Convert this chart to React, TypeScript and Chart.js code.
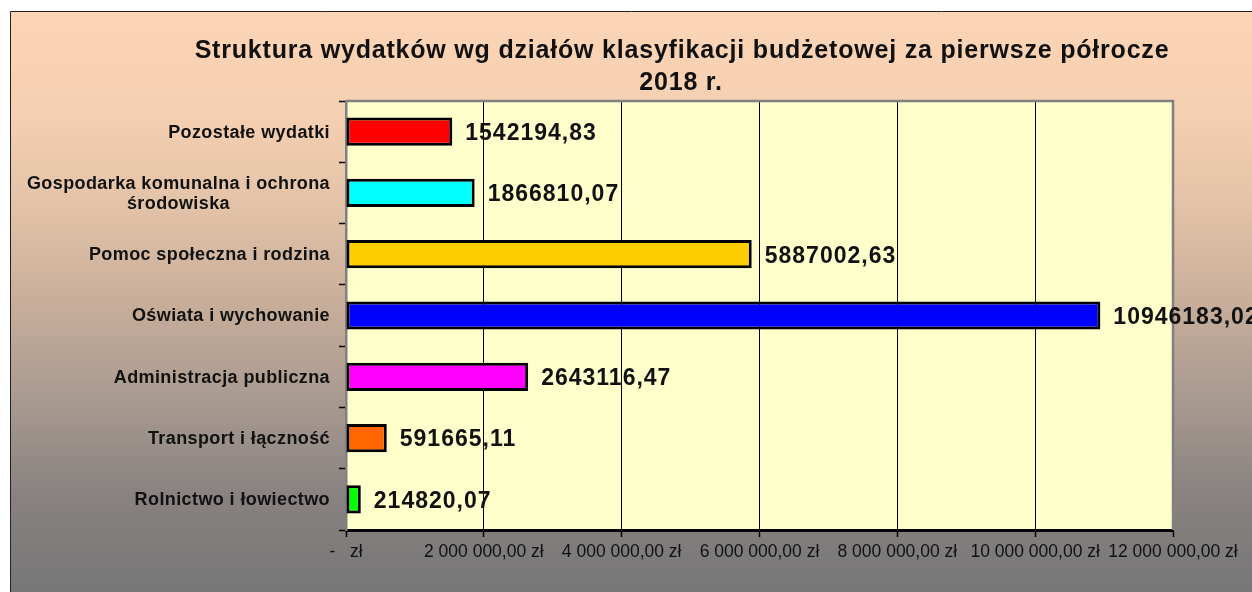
import React, { useEffect, useRef } from "react";
import { Chart, registerables } from "chart.js";

Chart.register(...registerables);

const TITLE_LINES = [
  "Struktura wydatków wg działów klasyfikacji budżetowej za pierwsze półrocze",
  "2018 r.",
];

const CATEGORIES: string[][] = [
  ["Pozostałe wydatki"],
  ["Gospodarka komunalna i ochrona", "środowiska"],
  ["Pomoc społeczna i rodzina"],
  ["Oświata i wychowanie"],
  ["Administracja publiczna"],
  ["Transport i łączność"],
  ["Rolnictwo i łowiectwo"],
];

const VALUES = [
  1542194.83, 1866810.07, 5887002.63, 10946183.02, 2643116.47, 591665.11, 214820.07,
];

const BAR_COLORS = [
  "#FF0000",
  "#00FFFF",
  "#FFCC00",
  "#0000FF",
  "#FF00FF",
  "#FF6600",
  "#00FF00",
];

const X_MIN = 0;
const X_MAX = 12000000;
const X_STEP = 2000000;

const FONT = "'Liberation Sans', Arial, sans-serif";

function formatTick(v: number): string {
  if (v === 0) return "-   zł";
  const s = Math.round(v).toString().replace(/\B(?=(\d{3})+(?!\d))/g, " ");
  return s + ",00 zł";
}

function formatValue(v: number): string {
  return v.toFixed(2).replace(".", ",");
}

const backgroundPlugin = {
  id: "bgPlugin",
  beforeDraw(chart: any) {
    const { ctx, width, height, chartArea } = chart;
    ctx.save();
    ctx.fillStyle = "#ffffff";
    ctx.fillRect(0, 0, width, height);
    const g = ctx.createLinearGradient(0, 11, 0, height);
    g.addColorStop(0, "#FBD5B5");
    g.addColorStop(0.18, "#F5CFB1");
    g.addColorStop(0.33, "#E3C3A8");
    g.addColorStop(0.5, "#C8AE9A");
    g.addColorStop(0.67, "#A89A90");
    g.addColorStop(0.84, "#878180");
    g.addColorStop(1, "#777777");
    ctx.fillStyle = g;
    ctx.fillRect(10, 11, width - 10, height - 11);
    ctx.strokeStyle = "#222222";
    ctx.lineWidth = 1;
    ctx.beginPath();
    ctx.moveTo(10.5, height);
    ctx.lineTo(10.5, 11.5);
    ctx.lineTo(width, 11.5);
    ctx.stroke();
    ctx.fillStyle = "#FFFFCC";
    ctx.fillRect(chartArea.left, chartArea.top, chartArea.right - chartArea.left, chartArea.bottom - chartArea.top);
    ctx.restore();
  },
  beforeDatasetsDraw(chart: any) {
    const { ctx, chartArea } = chart;
    ctx.save();
    ctx.strokeStyle = "#808080";
    ctx.lineWidth = 2.5;
    ctx.beginPath();
    ctx.moveTo(chartArea.left, chartArea.top);
    ctx.lineTo(chartArea.right, chartArea.top);
    ctx.lineTo(chartArea.right, chartArea.bottom);
    ctx.stroke();
    ctx.restore();
  },
  afterDraw(chart: any) {
    const { ctx } = chart;
    ctx.save();
    ctx.fillStyle = "#111111";
    ctx.font = `bold 25px ${FONT}`;
    (ctx as any).letterSpacing = "0.8px";
    ctx.textAlign = "center";
    ctx.textBaseline = "alphabetic";
    ctx.fillText(TITLE_LINES[0], 682, 58);
    ctx.fillText(TITLE_LINES[1], 681, 90);
    ctx.restore();

    // category labels: lines centred on each other, block right-aligned to the axis
    const yScale = chart.scales.y;
    ctx.save();
    ctx.fillStyle = "#111111";
    ctx.font = `bold 18px ${FONT}`;
    (ctx as any).letterSpacing = "0.4px";
    ctx.textAlign = "center";
    ctx.textBaseline = "middle";
    const right = 330;
    const lh = 20;
    CATEGORIES.forEach((lines, i) => {
      const cy = yScale.getPixelForValue(i);
      const maxW = Math.max(...lines.map((l) => ctx.measureText(l).width));
      const cx = right - maxW / 2;
      const y0 = cy - ((lines.length - 1) * lh) / 2;
      lines.forEach((l, j) => ctx.fillText(l, cx, y0 + j * lh + 1));
    });
    ctx.restore();
  },
};

const valueLabelPlugin = {
  id: "valueLabels",
  afterDatasetsDraw(chart: any) {
    const { ctx } = chart;
    const meta = chart.getDatasetMeta(0);
    ctx.save();
    ctx.fillStyle = "#111111";
    ctx.font = `bold 23px ${FONT}`;
    (ctx as any).letterSpacing = "1px";
    ctx.textAlign = "left";
    ctx.textBaseline = "middle";
    meta.data.forEach((bar: any, i: number) => {
      ctx.fillText(formatValue(VALUES[i]), bar.x + 13, bar.y + 2);
    });
    ctx.restore();
  },
};

export default function App() {
  const ref = useRef<HTMLCanvasElement | null>(null);

  useEffect(() => {
    if (!ref.current) return;
    const chart = new Chart(ref.current, {
      type: "bar",
      data: {
        labels: CATEGORIES.map((l) => l.join(" ")),
        datasets: [
          {
            data: VALUES,
            backgroundColor: BAR_COLORS,
            borderColor: "#000000",
            borderWidth: 3,
            borderSkipped: false,
            categoryPercentage: 1,
            barPercentage: 0.46,
          },
        ],
      },
      options: {
        indexAxis: "y",
        animation: false,
        responsive: false,
        events: [],
        layout: { padding: { top: 101, right: 79, left: 0, bottom: 0 } },
        plugins: {
          legend: { display: false },
          title: { display: false },
          tooltip: { enabled: false },
        },
        scales: {
          x: {
            min: X_MIN,
            max: X_MAX,
            afterFit(scale: any) {
              scale.height = 62;
            },
            ticks: {
              stepSize: X_STEP,
              autoSkip: false,
              maxRotation: 0,
              minRotation: 0,
              padding: 5,
              color: "#111111",
              font: { family: FONT, size: 17.5 },
              callback: (v: any) => formatTick(Number(v)),
            },
            grid: {
              color: (c: any) =>
                c.tick && (c.tick.value === X_MIN || c.tick.value === X_MAX) ? "rgba(0,0,0,0)" : "#000000",
              lineWidth: 1,
              tickLength: 7,
              tickColor: "#000000",
              tickWidth: 1.5,
            },
            border: { display: true, color: "#000000", width: 3 },
          },
          y: {
            afterFit(scale: any) {
              scale.width = 346;
            },
            ticks: { display: false },
            grid: {
              offset: true,
              drawOnChartArea: false,
              tickLength: 7,
              tickColor: "#000000",
              tickWidth: 1.5,
            },
            border: { display: true, color: "#808080", width: 2.5 },
          },
        },
      },
      plugins: [backgroundPlugin, valueLabelPlugin],
    });
    return () => chart.destroy();
  }, []);

  return (
    <div style={{ position: "absolute", left: 0, top: 0, width: 1252, height: 592 }}>
      <canvas ref={ref} width={1252} height={592} style={{ display: "block" }} />
    </div>
  );
}
